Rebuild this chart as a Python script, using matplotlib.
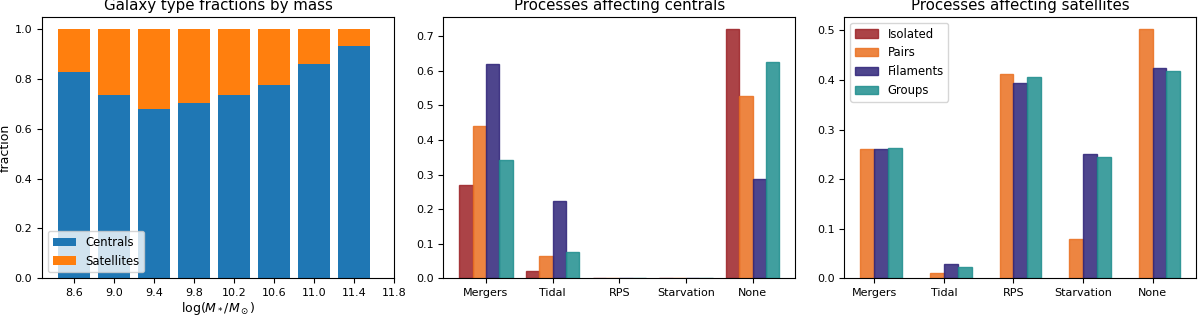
import numpy as np
import matplotlib
matplotlib.use("Agg")
import matplotlib.pyplot as plt

# ---- data -----------------------------------------------------------------
mass_bins = [8.6, 9.0, 9.4, 9.8, 10.2, 10.6, 11.0, 11.4]
frac_centrals = [0.828, 0.737, 0.680, 0.703, 0.737, 0.778, 0.862, 0.933]
frac_satellites = [1 - c for c in frac_centrals]

processes = ["Mergers", "Tidal", "RPS", "Starvation", "None"]
environments = ["Isolated", "Pairs", "Filaments", "Groups"]

cen_isolated = [0.270, 0.020, 0.0, 0.0, 0.720]
cen_pairs = [0.441, 0.063, 0.0, 0.0, 0.527]
cen_filaments = [0.620, 0.222, 0.0, 0.0, 0.287]
cen_groups = [0.341, 0.076, 0.0, 0.0, 0.625]

sat_isolated = [np.nan, np.nan, np.nan, np.nan, np.nan]
sat_pairs = [0.261, 0.010, 0.413, 0.079, 0.502]
sat_filaments = [0.261, 0.029, 0.394, 0.251, 0.424]
sat_groups = [0.262, 0.023, 0.406, 0.245, 0.419]

env_colors = ["#9c2227", "#ea7020", "#2f2479", "#1f8e8e"]

plt.rcParams["font.size"] = 8
plt.rcParams["axes.titlesize"] = 10.8
plt.rcParams["axes.labelsize"] = 9
plt.rcParams["legend.fontsize"] = 8.4

fig, ax = plt.subplots(1, 3, figsize=(12, 3.16), dpi=100)
fig.subplots_adjust(left=0.035, right=0.997, bottom=0.12, top=0.946, wspace=0.14)

# ---- panel 1: stacked fractions ------------------------------------------
ax[0].bar(mass_bins, frac_centrals, width=0.32, label="Centrals")
ax[0].bar(mass_bins, frac_satellites, width=0.32, bottom=frac_centrals,
          label="Satellites")
ax[0].set_xticks(np.arange(8.6, 11.81, 0.4))
ax[0].set_xlabel(r"$\log(M_*/M_\odot)$", labelpad=1.5)
ax[0].set_ylabel("fraction", labelpad=2)
ax[0].set_title("Galaxy type fractions by mass", pad=5)
ax[0].legend(loc="lower left")

# ---- panels 2 & 3: processes per environment ------------------------------
x = np.arange(len(processes))
w = 0.2
cen = [cen_isolated, cen_pairs, cen_filaments, cen_groups]
sat = [sat_isolated, sat_pairs, sat_filaments, sat_groups]
for a, series, title in ((ax[1], cen, "Processes affecting centrals"),
                         (ax[2], sat, "Processes affecting satellites")):
    for i, (vals, env, col) in enumerate(zip(series, environments, env_colors)):
        a.bar(x + (i - 1.5) * w, vals, width=w, color=col, alpha=0.85,
              edgecolor=col, label=env)
    a.set_xticks(x)
    a.set_xticklabels(processes)
    a.set_title(title, pad=5)
ax[2].legend(loc="upper left")

fig.savefig("out.png", dpi=100)
